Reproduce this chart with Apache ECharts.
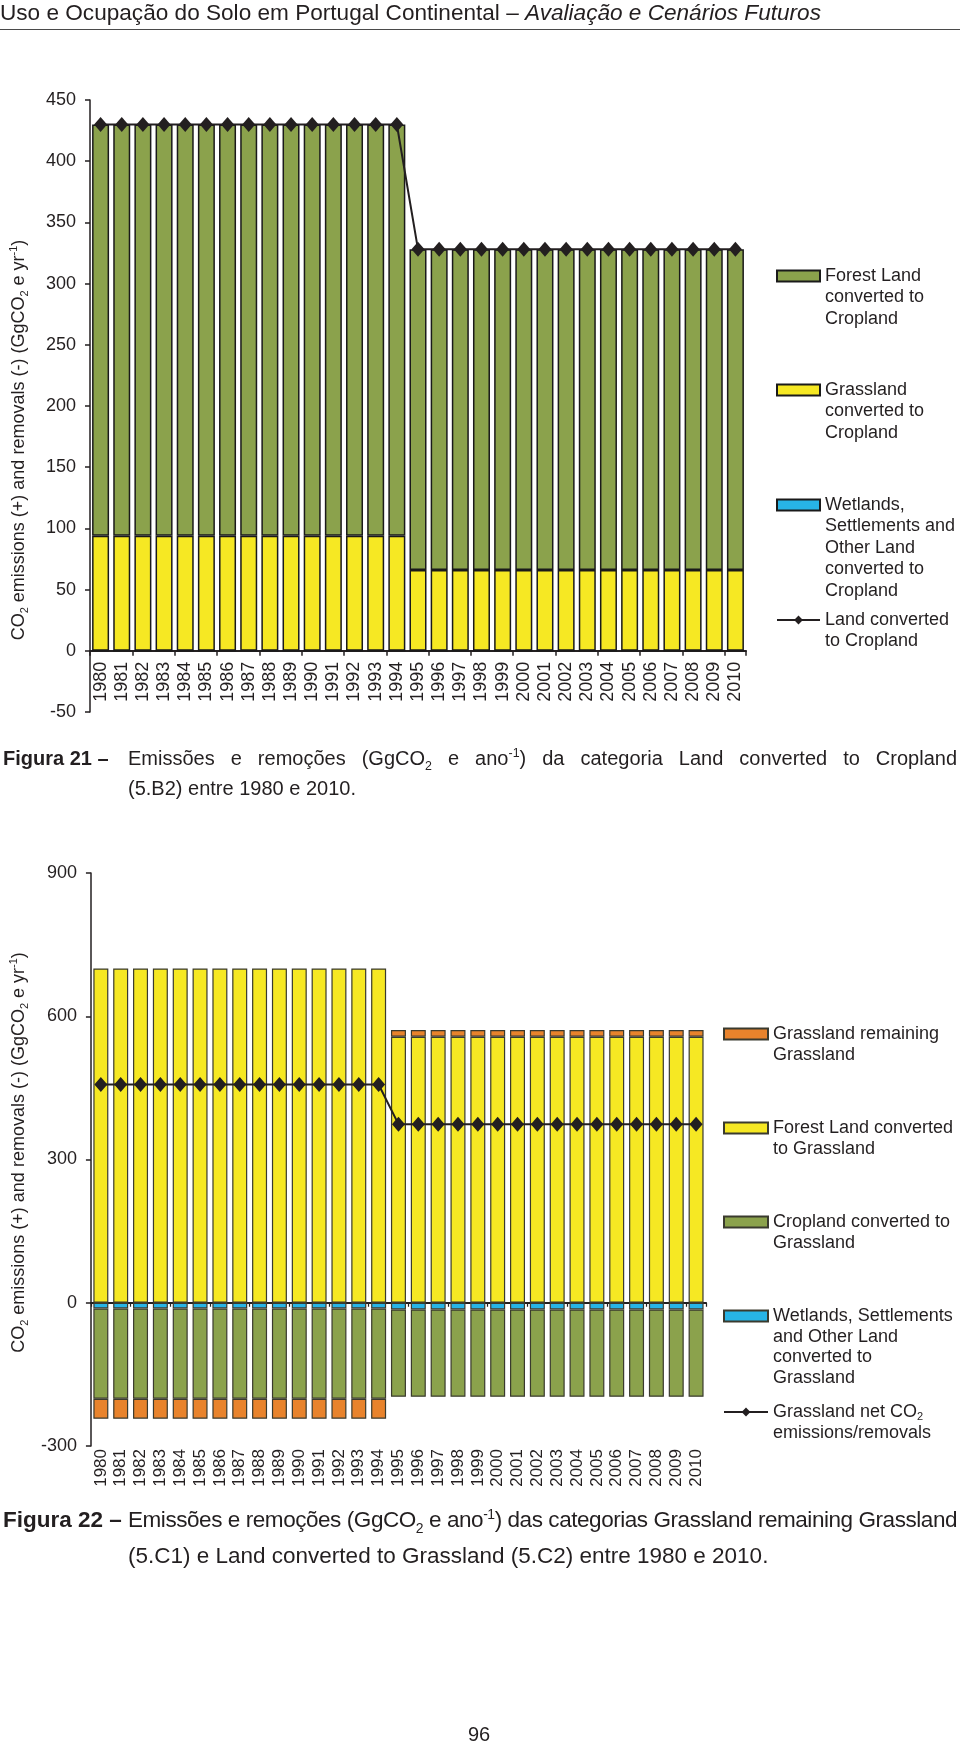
<!DOCTYPE html>
<html>
<head>
<meta charset="utf-8">
<script src="https://cdn.jsdelivr.net/npm/echarts@6/dist/echarts.min.js"></script>
<style>
html,body{margin:0;padding:0;background:#fff;}
#c{position:absolute;left:0;top:0;width:960px;height:1747px;}
.t{position:absolute;font-family:"Liberation Sans",Arial,sans-serif;color:#231F20;white-space:nowrap;z-index:2;}
.j{text-align:justify;text-align-last:justify;white-space:nowrap;}
sub,sup{font-size:0.62em;line-height:0;}
</style>
</head>
<body>
<div id="c"></div>
<div class="t" style="left:0;top:0;font-size:22.6px;line-height:26px;">Uso e Ocupação do Solo em Portugal Continental – <i>Avaliação e Cenários Futuros</i></div>
<div style="position:absolute;left:0;top:29px;width:960px;border-top:1.5px solid #4a4a4a;z-index:2;"></div>

<div class="t" style="left:3px;top:743px;font-size:20px;line-height:30px;font-weight:bold;">Figura 21 –</div>
<div class="t j" style="left:128px;top:743px;width:829px;font-size:20px;line-height:30px;">Emissões e remoções (GgCO<sub>2</sub> e ano<sup>-1</sup>) da categoria Land converted to Cropland</div>
<div class="t" style="left:128px;top:773px;font-size:20px;line-height:30px;">(5.B2) entre 1980 e 2010.</div>

<div class="t" style="left:3px;top:1502px;font-size:22.5px;line-height:36px;font-weight:bold;">Figura 22 –</div>
<div class="t j" style="left:128px;top:1502px;width:829px;font-size:22.5px;line-height:36px;letter-spacing:-0.45px;">Emissões e remoções (GgCO<sub>2</sub> e ano<sup>-1</sup>) das categorias Grassland remaining Grassland</div>
<div class="t" style="left:128px;top:1538px;font-size:22.5px;line-height:36px;">(5.C1) e Land converted to Grassland (5.C2) entre 1980 e 2010.</div>

<div class="t" style="left:459px;top:1721px;width:40px;text-align:center;font-size:20px;line-height:26px;">96</div>

<script>
// ---------- DATA ----------
const years = ['1980','1981','1982','1983','1984','1985','1986','1987','1988','1989','1990','1991','1992','1993','1994','1995','1996','1997','1998','1999','2000','2001','2002','2003','2004','2005','2006','2007','2008','2009','2010'];

// Figura 21 (Land converted to Cropland)
const f21Wetlands  = [0,0,0,0,0,0,0,0,0,0,0,0,0,0,0,0,0,0,0,0,0,0,0,0,0,0,0,0,0,0,0];
const f21Grassland = [94,94,94,94,94,94,94,94,94,94,94,94,94,94,94,66,66,66,66,66,66,66,66,66,66,66,66,66,66,66,66];
const f21Forest    = [336,336,336,336,336,336,336,336,336,336,336,336,336,336,336,262,262,262,262,262,262,262,262,262,262,262,262,262,262,262,262];
const f21Net       = [430,430,430,430,430,430,430,430,430,430,430,430,430,430,430,328,328,328,328,328,328,328,328,328,328,328,328,328,328,328,328];
const f21Ticks     = [-50,0,50,100,150,200,250,300,350,400,450];

// Figura 22 (Grassland)
const f22Wetlands  = [-12,-12,-12,-12,-12,-12,-12,-12,-12,-12,-12,-12,-12,-12,-12,-14,-14,-14,-14,-14,-14,-14,-14,-14,-14,-14,-14,-14,-14,-14,-14];
const f22Forest    = [700,700,700,700,700,700,700,700,700,700,700,700,700,700,700,557,557,557,557,557,557,557,557,557,557,557,557,557,557,557,557];
const f22Cropland  = [-189,-189,-189,-189,-189,-189,-189,-189,-189,-189,-189,-189,-189,-189,-189,-183,-183,-183,-183,-183,-183,-183,-183,-183,-183,-183,-183,-183,-183,-183,-183];
const f22Remaining = [-42,-42,-42,-42,-42,-42,-42,-42,-42,-42,-42,-42,-42,-42,-42,14,14,14,14,14,14,14,14,14,14,14,14,14,14,14,14];
const f22Net       = [457,457,457,457,457,457,457,457,457,457,457,457,457,457,457,374,374,374,374,374,374,374,374,374,374,374,374,374,374,374,374];
const f22Ticks     = [-300,0,300,600,900];

// ---------- NAMES / LABELS ----------
const N = {
  a1: 'Forest Land converted to Cropland',
  a2: 'Grassland converted to Cropland',
  a3: 'Wetlands, Settlements and Other Land converted to Cropland',
  a4: 'Land converted to Cropland',
  b1: 'Grassland remaining Grassland',
  b2: 'Forest Land converted to Grassland',
  b3: 'Cropland converted to Grassland',
  b4: 'Wetlands, Settlements and Other Land converted to Grassland',
  b5: 'Grassland net CO2 emissions/removals'
};
const legendText = {};
legendText[N.a1] = ['Forest Land','converted to','Cropland'];
legendText[N.a2] = ['Grassland','converted to','Cropland'];
legendText[N.a3] = ['Wetlands,','Settlements and','Other Land','converted to','Cropland'];
legendText[N.a4] = ['Land converted','to Cropland'];
legendText[N.b1] = ['Grassland remaining','Grassland'];
legendText[N.b2] = ['Forest Land converted','to Grassland'];
legendText[N.b3] = ['Cropland converted to','Grassland'];
legendText[N.b4] = ['Wetlands, Settlements','and Other Land','converted to','Grassland'];
legendText[N.b5] = ['Grassland net CO{s|2}','emissions/removals'];

// ---------- STYLE ----------
const FONT = '"Liberation Sans", Arial, sans-serif';
const TXT = '#231F20';
const GREEN = '#8BA24C', YELLOW = '#F6E823', BLUE = '#27B4E6', ORANGE = '#E8832C';

function fmt(name) {
  return legendText[name].map(function (l) {
    return l.split('{s|2}').map(function (p, i) { return (i ? '{s|2}' : '') + (p ? '{n|' + p + '}' : ''); }).join('');
  }).join('\n');
}
function lg(name, left, center, L, iw, isBar) {
  const n = legendText[name].length;
  const o = {
    data: [name], orient: 'vertical', left: left, top: center - (2 * n - 1) * L / 2,
    padding: 0, itemWidth: iw, itemHeight: 11, itemGap: 0, selectedMode: false,
    formatter: fmt,
    textStyle: {
      color: TXT, fontFamily: FONT, fontSize: 18, lineHeight: L,
      padding: [(n - 1) * L, 0, 0, 0],
      rich: {
        n: { fontFamily: FONT, fontSize: 18, lineHeight: L, color: TXT },
        s: { fontFamily: FONT, fontSize: 11, lineHeight: 10, color: TXT, verticalAlign: 'bottom' }
      }
    }
  };
  if (isBar) o.icon = 'rect';
  return o;
}
const yNameRich = {
  n: { fontFamily: FONT, fontSize: 18, lineHeight: 22, color: TXT },
  s: { fontFamily: FONT, fontSize: 11, lineHeight: 10, color: TXT, verticalAlign: 'bottom' },
  p: { fontFamily: FONT, fontSize: 11, lineHeight: 10, color: TXT, verticalAlign: 'top' }
};
const yName = '{n|CO}{s|2}{n| emissions (+) and removals (-) (GgCO}{s|2}{n| e yr}{p|-1}{n|)}';

function yAxis(grid, ticks, pad) {
  return {
    type: 'value', gridIndex: grid,
    min: ticks[0], max: ticks[ticks.length - 1], interval: ticks[1] - ticks[0],
    splitLine: { show: false },
    axisLine: { show: true, lineStyle: { color: TXT, width: 1.5 } },
    axisTick: { show: true, length: 5, lineStyle: { color: TXT, width: 1.5 } },
    axisLabel: { color: TXT, fontFamily: FONT, fontSize: 18, margin: 14 },
    name: yName, nameLocation: 'middle', nameRotate: 90, nameGap: 60,
    nameTextStyle: { rich: yNameRich, padding: pad }
  };
}

const barBorder1 = { borderColor: '#1a1a1a', borderWidth: 1.5 };
const barBorder2 = { borderColor: '#3a3a2e', borderWidth: 1.2 };
function bar(name, data, color, xi, yi, border, w, stack) {
  return {
    type: 'bar', name: name, data: data, xAxisIndex: xi, yAxisIndex: yi, stack: stack,
    barWidth: w, itemStyle: Object.assign({ color: color }, border), emphasis: { disabled: true }
  };
}
function line(name, data, xi, yi) {
  return {
    type: 'line', name: name, data: data, xAxisIndex: xi, yAxisIndex: yi, z: 5,
    symbol: 'diamond', symbolSize: [13, 15], showSymbol: true, showAllSymbol: true,
    lineStyle: { color: TXT, width: 2 }, itemStyle: { color: TXT },
    emphasis: { disabled: true }
  };
}

// zero line of chart 1 sits 50 units above the grid bottom: offset of the label axis
const g1 = { left: 84, top: 100, width: 662, height: 612 };
const zeroOffset1 = -(0 - f21Ticks[0]) / (f21Ticks[f21Ticks.length - 1] - f21Ticks[0]) * g1.height;

const chart = echarts.init(document.getElementById('c'), null, { width: 960, height: 1747 });
chart.setOption({
  animation: false,
  backgroundColor: '#fff',
  textStyle: { fontFamily: FONT },
  grid: [
    g1,
    { left: 84, top: 873, width: 622, height: 573 }
  ],
  xAxis: [
    {
      type: 'category', gridIndex: 0, data: years, position: 'bottom',
      axisLine: { onZero: true, lineStyle: { color: TXT, width: 2 } },
      axisTick: { show: true, length: 5, lineStyle: { color: TXT, width: 1.5 } },
      axisLabel: { show: false }
    },
    {
      type: 'category', gridIndex: 0, data: years, position: 'bottom', offset: zeroOffset1,
      axisLine: { show: false, onZero: false },
      axisTick: { show: false },
      axisLabel: { rotate: 90, color: TXT, fontFamily: FONT, fontSize: 18, margin: 11, interval: 0 }
    },
    {
      type: 'category', gridIndex: 1, data: years, position: 'bottom',
      axisLine: { onZero: true, lineStyle: { color: TXT, width: 2 } },
      axisTick: { show: true, length: 4, lineStyle: { color: TXT, width: 1.2 } },
      axisLabel: { show: false }
    },
    {
      type: 'category', gridIndex: 1, data: years, position: 'bottom',
      axisLine: { show: false, onZero: false },
      axisTick: { show: false },
      axisLabel: { rotate: 90, color: TXT, fontFamily: FONT, fontSize: 17, margin: 3, interval: 0 }
    }
  ],
  yAxis: [
    yAxis(0, f21Ticks, [0, 68, 0, 0]),
    yAxis(1, f22Ticks, [0, 0, 0, 14])
  ],
  legend: [
    lg(N.a1, 776, 276, 21.5, 43, true),
    lg(N.a2, 776, 390, 21.5, 43, true),
    lg(N.a3, 776, 505, 21.5, 43, true),
    lg(N.a4, 776, 620, 21.5, 43, false),
    lg(N.b1, 723, 1034, 20.7, 44, true),
    lg(N.b2, 723, 1128, 20.7, 44, true),
    lg(N.b3, 723, 1222, 20.7, 44, true),
    lg(N.b4, 723, 1316, 20.7, 44, true),
    lg(N.b5, 723, 1412, 20.7, 44, false)
  ],
  series: [
    bar(N.a3, f21Wetlands, BLUE, 0, 0, barBorder1, 17, 's1'),
    bar(N.a2, f21Grassland, YELLOW, 0, 0, barBorder1, 17, 's1'),
    bar(N.a1, f21Forest, GREEN, 0, 0, barBorder1, 17, 's1'),
    line(N.a4, f21Net, 0, 0),
    bar(N.b4, f22Wetlands, BLUE, 2, 1, barBorder2, 15, 's2'),
    bar(N.b2, f22Forest, YELLOW, 2, 1, barBorder2, 15, 's2'),
    bar(N.b3, f22Cropland, GREEN, 2, 1, barBorder2, 15, 's2'),
    bar(N.b1, f22Remaining, ORANGE, 2, 1, barBorder2, 15, 's2'),
    line(N.b5, f22Net, 2, 1)
  ]
});
</script>
</body>
</html>
